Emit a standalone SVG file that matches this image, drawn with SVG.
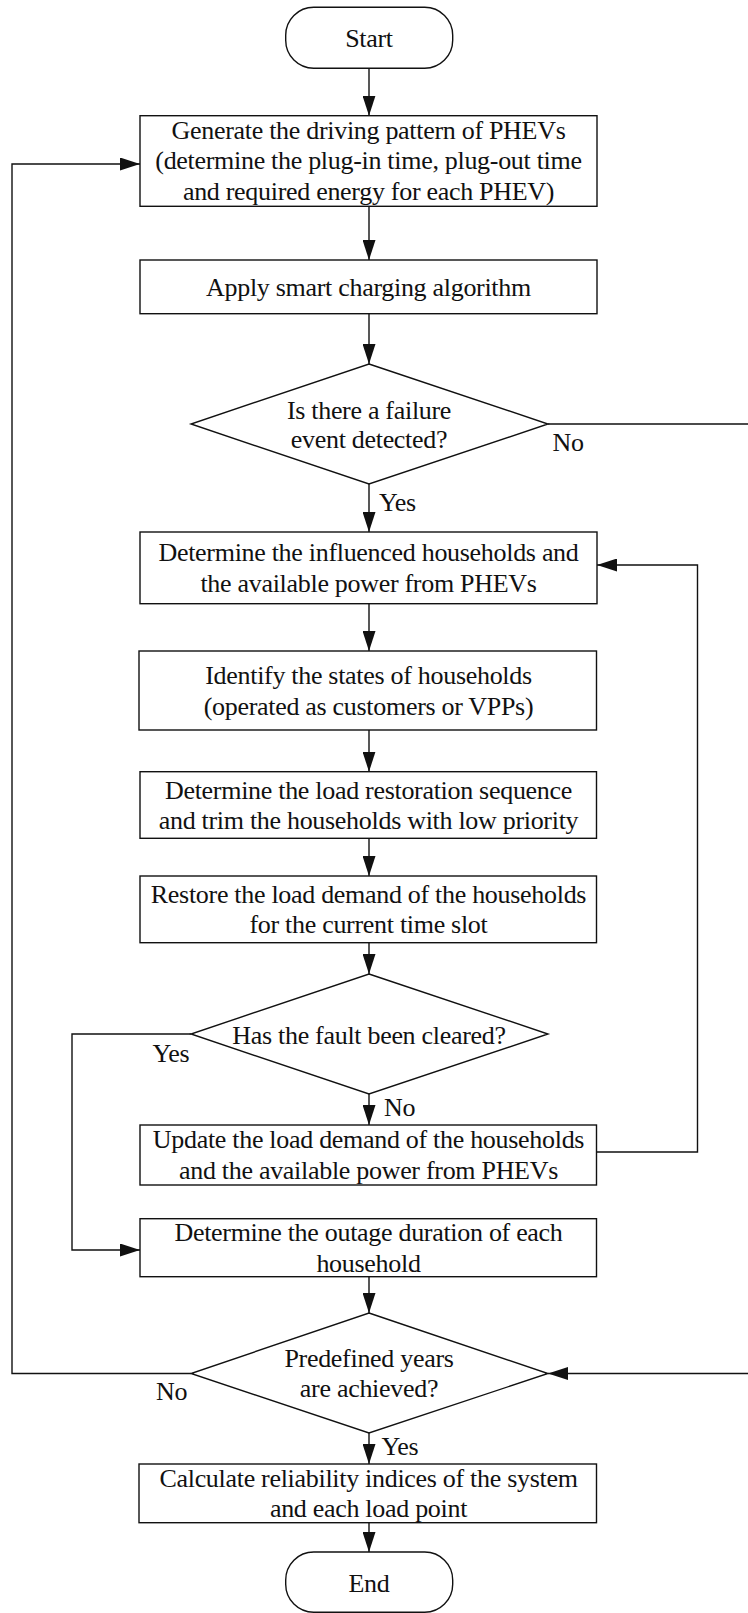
<svg xmlns="http://www.w3.org/2000/svg" width="748" height="1613" viewBox="0 0 748 1613">
  <defs>
    <marker id="arrow" markerUnits="userSpaceOnUse" markerWidth="20" markerHeight="13" refX="20" refY="6.5" orient="auto">
      <path d="M0,0 L20,6.5 L0,13 Z" fill="#111"/>
    </marker>
    <style>
      .shape { fill: #fff; stroke: #111; stroke-width: 1.4; }
      .edge { fill: none; stroke: #111; stroke-width: 1.4; marker-end: url(#arrow); }
      text { font-family: "Liberation Serif", "Times New Roman", serif; font-size: 26px; letter-spacing: -0.3px; fill: #111; }
      .c { text-anchor: middle; }
    </style>
  </defs>
  <rect width="748" height="1613" fill="#fff"/>

  <g id="connectors">
    <line class="edge" x1="369" y1="68.3" x2="369" y2="115.7"/>
    <line class="edge" x1="369" y1="206.3" x2="369" y2="260"/>
    <line class="edge" x1="369" y1="313.7" x2="369" y2="364"/>
    <line class="edge" x1="369" y1="484" x2="369" y2="532"/>
    <line class="edge" x1="369" y1="603.7" x2="369" y2="651"/>
    <line class="edge" x1="369" y1="730" x2="369" y2="771.7"/>
    <line class="edge" x1="369" y1="838.3" x2="369" y2="876"/>
    <line class="edge" x1="369" y1="942.7" x2="369" y2="974"/>
    <line class="edge" x1="369" y1="1094" x2="369" y2="1125"/>
    <polyline class="edge" points="191,1034 72,1034 72,1250 140,1250"/>
    <polyline class="edge" points="597,1152 697.5,1152 697.5,565 597,565"/>
    <line class="edge" x1="369" y1="1276.7" x2="369" y2="1313"/>
    <line class="edge" x1="369" y1="1433" x2="369" y2="1464"/>
    <line class="edge" x1="369" y1="1522.7" x2="369" y2="1552"/>
    <polyline class="edge" points="191,1373.5 12,1373.5 12,164 140,164"/>
    <polyline class="edge" points="548,424 760,424 760,1373.5 548,1373.5"/>
    <text x="552.5" y="450.5">No</text>
    <text x="379" y="510.5">Yes</text>
    <text x="152.5" y="1061.5">Yes</text>
    <text x="384" y="1115.5">No</text>
    <text x="156" y="1399.5">No</text>
    <text x="381.5" y="1454.5">Yes</text>
  </g>

  <g id="start">
    <rect class="shape" x="285.7" y="7.3" width="167" height="61" rx="28" ry="28"/>
    <text class="c" x="369" y="46.7">Start</text>
  </g>

  <g id="generate-pattern">
    <rect class="shape" x="140" y="115.7" width="457" height="90.6"/>
    <text class="c" x="368.5" y="138.5">Generate the driving pattern of PHEVs</text>
    <text class="c" x="368.5" y="169">(determine the plug-in time, plug-out time</text>
    <text class="c" x="368.5" y="199.5">and required energy for each PHEV)</text>
  </g>

  <g id="smart-charging">
    <rect class="shape" x="140" y="260" width="457" height="53.7"/>
    <text class="c" x="368.5" y="295.5">Apply smart charging algorithm</text>
  </g>

  <g id="failure-check">
    <polygon class="shape" points="369,364 548,424 369,484 191,424"/>
    <text class="c" x="369" y="418.5">Is there a failure</text>
    <text class="c" x="369" y="447.5">event detected?</text>
  </g>

  <g id="influenced-households">
    <rect class="shape" x="140" y="532" width="457" height="71.7"/>
    <text class="c" x="368.5" y="561">Determine the influenced households and</text>
    <text class="c" x="368.5" y="591.5">the available power from PHEVs</text>
  </g>

  <g id="household-states">
    <rect class="shape" x="139" y="651" width="457.5" height="79"/>
    <text class="c" x="368.5" y="683.5">Identify the states of households</text>
    <text class="c" x="368.5" y="714.5">(operated as customers or VPPs)</text>
  </g>

  <g id="restoration-sequence">
    <rect class="shape" x="140" y="771.7" width="456.5" height="66.6"/>
    <text class="c" x="368.5" y="798.5">Determine the load restoration sequence</text>
    <text class="c" x="368.5" y="828.5">and trim the households with low priority</text>
  </g>

  <g id="restore-demand">
    <rect class="shape" x="140" y="876" width="456.5" height="66.7"/>
    <text class="c" x="368.5" y="902.5">Restore the load demand of the households</text>
    <text class="c" x="368.5" y="932.5">for the current time slot</text>
  </g>

  <g id="fault-check">
    <polygon class="shape" points="369,974 548,1034 369,1094 191,1034"/>
    <text class="c" x="369" y="1043.5">Has the fault been cleared?</text>
  </g>

  <g id="update-demand">
    <rect class="shape" x="140" y="1125" width="456.5" height="60"/>
    <text class="c" x="368.5" y="1147.5">Update the load demand of the households</text>
    <text class="c" x="368.5" y="1178.5">and the available power from PHEVs</text>
  </g>

  <g id="outage-duration">
    <rect class="shape" x="140" y="1218.7" width="456.5" height="58"/>
    <text class="c" x="368.5" y="1241">Determine the outage duration of each</text>
    <text class="c" x="368.5" y="1271.5">household</text>
  </g>

  <g id="years-check">
    <polygon class="shape" points="369,1313 548,1373.5 369,1433 191,1373.5"/>
    <text class="c" x="369" y="1366.5">Predefined years</text>
    <text class="c" x="369" y="1396.5">are achieved?</text>
  </g>

  <g id="reliability-indices">
    <rect class="shape" x="139" y="1464" width="457.5" height="58.7"/>
    <text class="c" x="368.5" y="1486.5">Calculate reliability indices of the system</text>
    <text class="c" x="368.5" y="1516.5">and each load point</text>
  </g>

  <g id="end">
    <rect class="shape" x="285.7" y="1552" width="167" height="60.3" rx="28" ry="28"/>
    <text class="c" x="369" y="1591.5">End</text>
  </g>
</svg>
